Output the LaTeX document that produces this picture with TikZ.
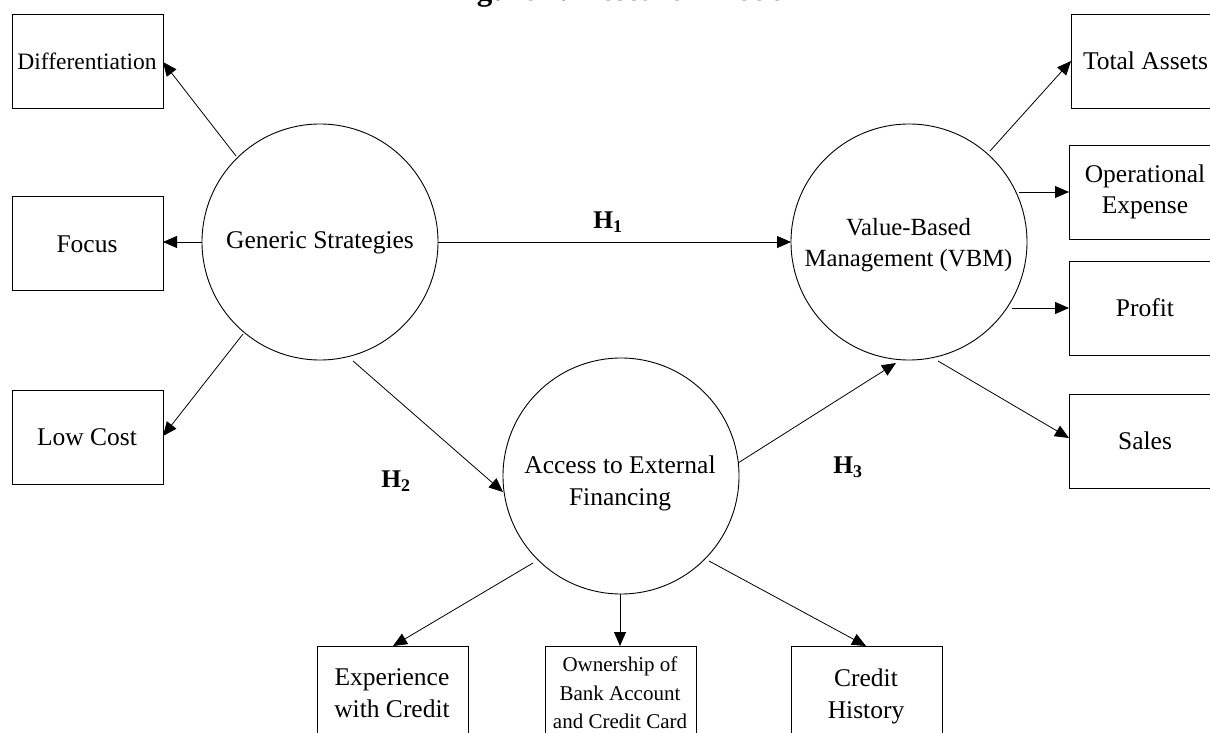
\documentclass[tikz,border=0pt]{standalone}
\usepackage{fontspec}
\setmainfont{Liberation Serif}
\usetikzlibrary{arrows.meta}
\tikzset{
  x=1pt,y=-1pt,
  circ/.style={draw,circle,line width=0.9pt,minimum size=236pt,inner sep=0pt},
  bx/.style={draw,line width=1pt,rectangle,anchor=north west,inner sep=0pt,minimum width=151pt,minimum height=94pt},
  lbl/.style={align=center,inner sep=0pt,font=\fontsize{25.5}{31.5}\selectfont},
  smalllbl/.style={align=center,inner sep=0pt,font=\fontsize{21}{28.5}\selectfont},
  hyp/.style={inner sep=0pt,font=\fontsize{25.5}{30}\selectfont\bfseries},
  arr/.style={line width=0.8pt,-{Triangle[length=14pt,width=12pt]}},
}
\begin{document}
\begin{tikzpicture}
\useasboundingbox (0,0) rectangle (1210,733);
\clip (0,0) rectangle (1210,733);
\node[font=\fontsize{31}{34}\selectfont\bfseries,anchor=base,inner sep=0pt] (title) at (620.5,0.5) {Figure 1. Research Model};
\node[circ] (gs) at (320,242) {};
\node[circ] (vbm) at (909,242) {};
\node[circ] (ext) at (621,476) {};
\node[lbl] (gsl) at (320,243) {Generic Strategies};
\node[lbl,font=\fontsize{24.7}{31}\selectfont] (vbml) at (908.5,245.5) {Value-Based\\Management (VBM)};
\node[lbl,font=\fontsize{25.5}{32}\selectfont] (extl) at (620,483) {Access to External\\Financing};
\node[bx] (dif) at (12,14) {};
\node[bx] (foc) at (12,196) {};
\node[bx] (low) at (12,390) {};
\node[bx] (ta) at (1071,14) {};
\node[bx] (op) at (1069,145) {};
\node[bx] (pr) at (1069,261) {};
\node[bx] (sa) at (1069,394) {};
\node[bx] (ec) at (317,646) {};
\node[bx] (ow) at (545,646) {};
\node[bx] (ch) at (791,646) {};
\node[smalllbl,font=\fontsize{23.5}{28}\selectfont] (difl) at (87,61) {Differentiation};
\node[lbl] (focl) at (87,244) {Focus};
\node[lbl] (lowl) at (87,437) {Low Cost};
\node[lbl] (tal) at (1145.5,61) {Total Assets};
\node[lbl] (opl) at (1145,192) {Operational\\Expense};
\node[lbl] (prl) at (1145,308) {Profit};
\node[lbl] (sal) at (1145,441) {Sales};
\node[lbl] (ecl) at (392,693) {Experience\\with Credit};
\node[smalllbl] (owl) at (620,693) {Ownership of\\Bank Account\\and Credit Card};
\node[lbl,font=\fontsize{25.5}{32}\selectfont] (chl) at (866,696) {Credit\\History};
\node[hyp] (h1) at (608,222) {H\textsubscript{1}};
\node[hyp] (h2) at (396,481) {H\textsubscript{2}};
\node[hyp] (h3) at (848,467) {H\textsubscript{3}};
\coordinate (a1) at (236,156); \coordinate (a2) at (163,62);
\draw[arr] (a1) -- (a2);
\coordinate (a3) at (202,242); \coordinate (a4) at (163,242);
\draw[arr] (a3) -- (a4);
\coordinate (a5) at (243,334); \coordinate (a6) at (163,436);
\draw[arr] (a5) -- (a6);
\coordinate (b1) at (438,242); \coordinate (b2) at (791,242);
\draw[arr] (b1) -- (b2);
\coordinate (b3) at (353,361); \coordinate (b4) at (503,492);
\draw[arr] (b3) -- (b4);
\coordinate (b5) at (738,463); \coordinate (b6) at (896,363);
\draw[arr] (b5) -- (b6);
\coordinate (c1) at (990,151); \coordinate (c2) at (1071,61);
\draw[arr] (c1) -- (c2);
\coordinate (c3) at (1019,192); \coordinate (c4) at (1069,192);
\draw[arr] (c3) -- (c4);
\coordinate (c5) at (1012,308); \coordinate (c6) at (1069,308);
\draw[arr] (c5) -- (c6);
\coordinate (c7) at (938,361); \coordinate (c8) at (1069,438);
\draw[arr] (c7) -- (c8);
\coordinate (d1) at (533,563); \coordinate (d2) at (393,646);
\draw[arr] (d1) -- (d2);
\coordinate (d3) at (620,594); \coordinate (d4) at (620,646);
\draw[arr] (d3) -- (d4);
\coordinate (d5) at (709,561); \coordinate (d6) at (866,646);
\draw[arr] (d5) -- (d6);
\end{tikzpicture}
\end{document}
